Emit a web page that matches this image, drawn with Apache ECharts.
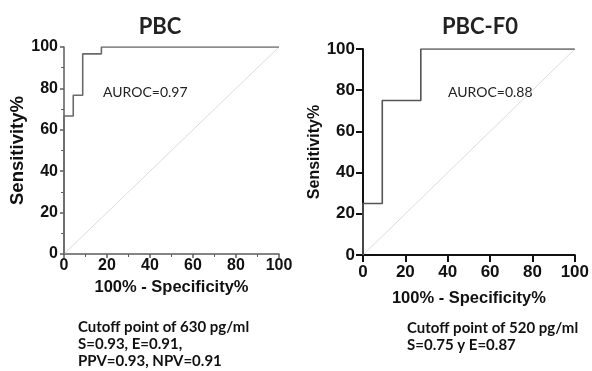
<!DOCTYPE html>
<html>
<head>
<meta charset="utf-8">
<script src="https://cdn.jsdelivr.net/npm/echarts@6/dist/echarts.min.js"></script>
<style>
  html, body { margin: 0; padding: 0; background: #fff; }
  #chart { width: 592px; height: 371px; }
</style>
</head>
<body>
<div id="chart"></div>
<script>
// ROC curve for PBC: false positive rate (100% - specificity) vs sensitivity
const pbcFpr  = [0, 0, 4.3, 4.3, 8.7, 8.7, 17.4, 17.4, 100];
const pbcSens = [0, 66.7, 66.7, 76.7, 76.7, 96.7, 96.7, 100, 100];

// ROC curve for PBC-F0
const f0Fpr  = [0, 0, 9.1, 9.1, 27.3, 27.3, 100];
const f0Sens = [0, 25, 25, 75, 75, 100, 100];

// chance line
const chanceX = [0, 100];
const chanceY = [0, 100];

// shared tick values for both axes
const tickValues = [0, 20, 40, 60, 80, 100];

const panelTitles = ['PBC', 'PBC-F0'];
const aurocLabels = ['AUROC=0.97', 'AUROC=0.88'];
const cutoffNotes = [
  ['Cutoff point of 630 pg/ml', 'S=0.93, E=0.91,', 'PPV=0.93, NPV=0.91'],
  ['Cutoff point of 520 pg/ml', 'S=0.75 y E=0.87']
];

const xName = '100% - Specificity%';
const yName = 'Sensitivity%';

const zip = (xs, ys) => xs.map((x, i) => [x, ys[i]]);

const axisFont = 'Liberation Sans, Arial, sans-serif';
const noteFont = 'Lato, "Open Sans", sans-serif';

const tMin = tickValues[0];
const tMax = tickValues[tickValues.length - 1];
const tStep = tickValues[1] - tickValues[0];

function makeAxis(kind, gridIndex, opt) {
  const isX = kind === 'x';
  return {
    type: 'value',
    gridIndex: gridIndex,
    min: tMin, max: tMax, interval: tStep,
    name: isX ? xName : yName,
    nameLocation: 'middle',
    nameGap: isX ? opt.xGap : opt.yGap,
    nameTextStyle: {
      fontFamily: axisFont, fontWeight: 'bold',
      fontSize: isX ? opt.xNameSize : opt.yNameSize,
      color: '#111', verticalAlign: 'middle'
    },
    axisLine: { show: true, onZero: false, lineStyle: { color: opt.axisColor, width: opt.axisWidth } },
    axisTick: { show: true, length: opt.tickLen, lineStyle: { color: opt.axisColor, width: opt.axisWidth } },
    minorTick: { show: opt.minor, splitNumber: 2, length: opt.tickLen - 1, lineStyle: { color: opt.axisColor, width: 1 } },
    splitLine: { show: false },
    axisLabel: {
      fontFamily: axisFont, fontWeight: 'bold', fontSize: opt.labelSize,
      color: '#111', margin: isX ? opt.xLabelMargin : opt.yLabelMargin
    }
  };
}

const leftOpt = { axisColor: '#5c5c5c', axisWidth: 1.5, tickLen: 4, minor: true,
  labelSize: 16, xLabelMargin: 4, yLabelMargin: 6,
  xGap: 33, yGap: 42, xNameSize: 16.5, yNameSize: 18.5 };
const rightOpt = { axisColor: '#111', axisWidth: 2, tickLen: 7, minor: false,
  labelSize: 17, xLabelMargin: 9, yLabelMargin: 8,
  xGap: 43, yGap: 48, xNameSize: 16.5, yNameSize: 16 };

const chart = echarts.init(document.getElementById('chart'), null, { renderer: 'canvas' });

chart.setOption({
  backgroundColor: '#ffffff',
  animation: false,
  title: [
    { text: panelTitles[0], left: 155, top: 22, textAlign: 'center', textVerticalAlign: 'middle',
      textStyle: { fontFamily: noteFont, fontWeight: 'bold', fontSize: 22, color: '#222' } },
    { text: panelTitles[1], left: 475, top: 22, textAlign: 'center', textVerticalAlign: 'middle',
      textStyle: { fontFamily: noteFont, fontWeight: 'bold', fontSize: 22, color: '#222' } }
  ],
  grid: [
    { left: 64, top: 47, width: 215, height: 207 },
    { left: 363, top: 49, width: 215, height: 206 }
  ],
  xAxis: [makeAxis('x', 0, leftOpt), makeAxis('x', 1, rightOpt)],
  yAxis: [makeAxis('y', 0, leftOpt), makeAxis('y', 1, rightOpt)],
  series: [
    { type: 'line', xAxisIndex: 0, yAxisIndex: 0, data: zip(chanceX, chanceY), showSymbol: false,
      lineStyle: { color: '#dcdcdc', width: 1 }, z: 1 },
    { type: 'line', xAxisIndex: 0, yAxisIndex: 0, data: zip(pbcFpr, pbcSens), showSymbol: false,
      lineStyle: { color: '#6a6a6a', width: 1.6 }, z: 2 },
    { type: 'line', xAxisIndex: 1, yAxisIndex: 1, data: zip(chanceX, chanceY), showSymbol: false,
      lineStyle: { color: '#dcdcdc', width: 1 }, z: 1 },
    { type: 'line', xAxisIndex: 1, yAxisIndex: 1, data: zip(f0Fpr, f0Sens), showSymbol: false,
      lineStyle: { color: '#555555', width: 1.6 }, z: 2 }
  ],
  graphic: [
    { type: 'text', left: 103, top: 85,
      style: { text: aurocLabels[0], font: '14px ' + noteFont, fill: '#222' } },
    { type: 'text', left: 448, top: 85,
      style: { text: aurocLabels[1], font: '14px ' + noteFont, fill: '#222' } },
    { type: 'text', left: 78, top: 319,
      style: { text: cutoffNotes[0].join('\n'), font: 'bold 15px ' + noteFont, lineHeight: 17, fill: '#111' } },
    { type: 'text', left: 407, top: 320,
      style: { text: cutoffNotes[1].join('\n'), font: 'bold 15px ' + noteFont, lineHeight: 17, fill: '#111' } }
  ]
});
</script>
</body>
</html>
